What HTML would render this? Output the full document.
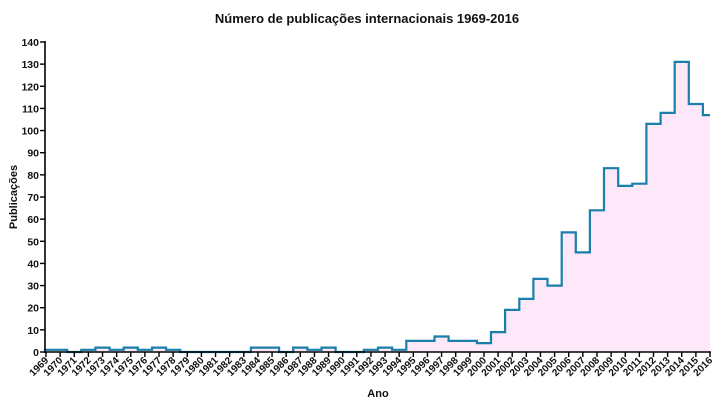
<!DOCTYPE html>
<html><head><meta charset="utf-8"><style>
html,body{margin:0;padding:0;background:#fff;width:716px;height:403px;overflow:hidden}
svg{display:block;font-family:"Liberation Sans",Arial,sans-serif}
</style></head><body>
<svg id="s" width="716" height="403" xmlns="http://www.w3.org/2000/svg">
<text x="367" y="23" text-anchor="middle" font-size="13" font-weight="bold" fill="#111">Número de publicações internacionais 1969-2016</text>
<text transform="translate(17,197) rotate(-90)" text-anchor="middle" font-size="11" font-weight="bold" fill="#111">Publicações</text>
<text x="378" y="397" text-anchor="middle" font-size="11" font-weight="bold" fill="#111">Ano</text>
<g id="g"></g>
</svg>
<script>
var d=[1,1,0,1,2,1,2,1,2,1,0,0,0,0,0,2,2,0,2,1,2,0,0,1,2,1,5,5,7,5,5,4,9,19,24,33,30,54,45,64,83,75,76,103,108,131,112,107];
var x0=46,st=(710-46)/47,y0=352,py=310/140,ax=45;
function X(i){return x0+i*st}function Y(v){return y0-v*py}
var h='';
var p='M'+ax+' '+Y(d[0]);
for(var i=0;i<d.length;i++){var a=Math.max(ax,X(i)-st/2),b=Math.min(710,X(i)+st/2);
p+=' L'+a.toFixed(1)+' '+Y(d[i]).toFixed(1)+' L'+b.toFixed(1)+' '+Y(d[i]).toFixed(1);}
h+='<path d="'+p+' L710 '+y0+' L'+ax+' '+y0+' Z" fill="#fce8f8" stroke="none"/>';
h+='<path d="'+p+'" fill="none" stroke="#1a7fab" stroke-width="2.2"/>';
h+='<line x1="'+ax+'" y1="41" x2="'+ax+'" y2="'+(y0+1)+'" stroke="#000" stroke-width="1.6"/>';
h+='<line x1="'+ax+'" y1="'+y0+'" x2="711" y2="'+y0+'" stroke="#000" stroke-width="1.6"/>';
for(var v=0;v<=140;v+=10){var y=Y(v);h+='<line x1="40" y1="'+y+'" x2="'+ax+'" y2="'+y+'" stroke="#000" stroke-width="1.4"/>';
h+='<text x="39" y="'+(y+4)+'" text-anchor="end" font-size="10.5" font-weight="bold" fill="#111">'+v+'</text>';}
for(var i=0;i<d.length;i++){var x=X(i);h+='<line x1="'+x+'" y1="'+y0+'" x2="'+x+'" y2="'+(y0+5)+'" stroke="#000" stroke-width="1.4"/>';
h+='<text transform="translate('+(x+3)+','+(y0+9)+') rotate(-45)" text-anchor="end" font-size="10" font-weight="bold" fill="#111">'+(1969+i)+'</text>';}
document.getElementById('g').innerHTML=h;
</script>
</body></html>
